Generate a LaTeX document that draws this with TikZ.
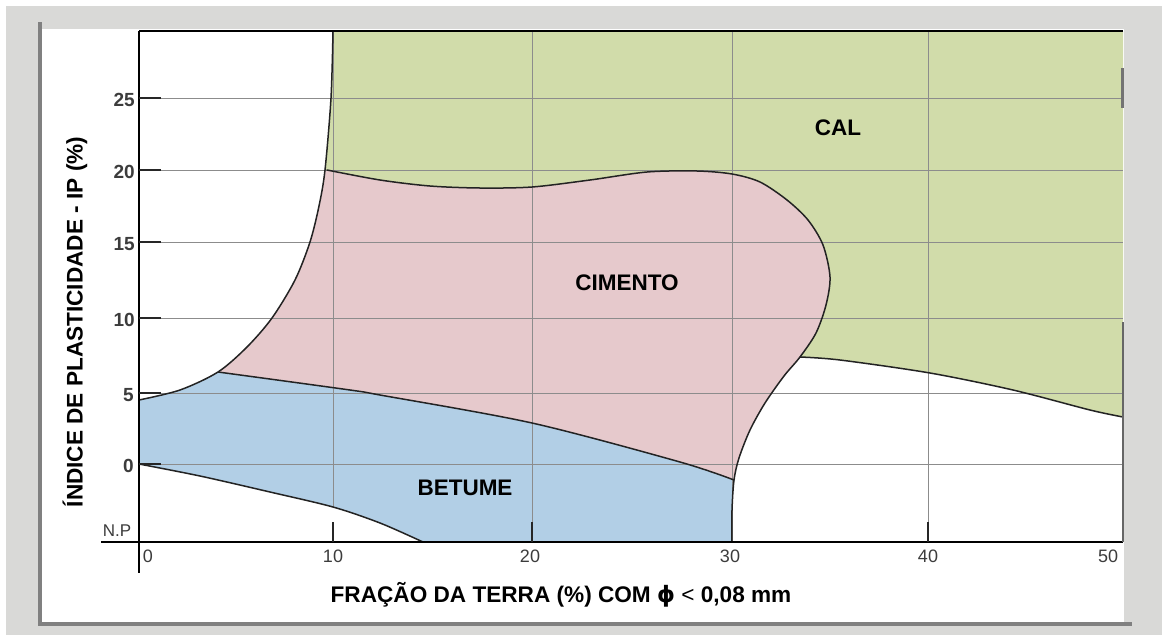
\documentclass[tikz,border=0pt]{standalone}
\usepackage{fontspec}
\setmainfont{Liberation Sans}
\newfontfamily\djv{DejaVu Sans}
\definecolor{calgreen}{RGB}{209,220,170}
\definecolor{cimpink}{RGB}{230,201,204}
\definecolor{betblue}{RGB}{178,207,230}
\definecolor{outergray}{RGB}{217,217,215}
\definecolor{framegray}{RGB}{128,128,128}
\definecolor{gridgray}{RGB}{140,140,140}
\definecolor{curvecol}{RGB}{35,35,35}
\definecolor{ticklab}{RGB}{60,60,60}
\tikzset{
  gridline/.style={draw=gridgray, line width=1pt},
  curve/.style={draw=curvecol, line width=1.5pt, line join=round, line cap=round},
  axisline/.style={draw=black, line width=2pt},
  tickmark/.style={draw=black!85, line width=1.6pt},
  ylab/.style={font=\bfseries\fontsize{19}{21}\selectfont, text=ticklab, anchor=east, inner sep=0pt},
  xlab/.style={font=\fontsize{18}{20}\selectfont, text=ticklab, inner sep=0pt},
  title/.style={font=\bfseries\fontsize{22.6}{26}\selectfont, text=black, inner sep=0pt},
  region/.style={font=\bfseries\fontsize{22.5}{26}\selectfont, text=black, inner sep=0pt},
}
\begin{document}
\begin{tikzpicture}[x=1pt, y=-1pt]
\useasboundingbox (0,0) rectangle (1162,635);
% page background and panel
\fill[white] (0,0) rectangle (1162,635);
\fill[outergray] (6,6) rectangle (1162,635);
\fill[white] (41,29) rectangle (1124,622);
\fill[framegray] (38,22) rectangle (42,626);
\fill[framegray] (38,622) rectangle (1132,626);

% coloured regions, clipped to the area right of the left curve
\begin{scope}
\clip plot[smooth] coordinates {(333,31) (331,98) (325,170) (319,206) (310,242) (295,280) (272,318) (247,347) (218,372) (180,390) (139,400)}
  -- (139,464)
  -- plot[smooth] coordinates {(139,464) (200,476) (270,492) (333,507) (380,523) (423,542)}
  -- (1123,542) -- (1123,31) -- cycle;
\fill[calgreen] (100,20) rectangle (1130,550);
\fill[white] (700,357) -- plot[smooth] coordinates {(800,357) (840,360) (930,373) (1013,390) (1090,410) (1123,417)}
  -- (1130,417) -- (1130,550) -- (700,550) -- cycle;
\fill[cimpink] plot[smooth] coordinates {(327,170) (380,180) (430,186) (480,188) (532,187) (590,180) (647,172) (697,171) (732,174) (760,182) (787,200) (808,220) (823,245) (830,277) (826,305) (816,333) (800,357) (784,376) (765,403) (750,430) (739,458) (734,480) (732,510) (732,542)}
  -- (732,550) -- (100,550) -- (100,170) -- cycle;
\fill[betblue] plot[smooth] coordinates {(120,359) (218,372) (350,390) (380,395) (532,423) (680,462) (734,480)}
  -- (732,510) -- (732,550) -- (100,550) -- (100,359) -- cycle;
\end{scope}

% grid
\foreach \yy in {98,170,242,318,393,464} {
  \draw[gridline] (139,\yy) -- (1123,\yy);
}
\draw[gridline] (333,31) -- (333,507);
\foreach \xx in {532,732,928} {
  \draw[gridline] (\xx,31) -- (\xx,542);
}

% boundary curves
\begin{scope}
\clip plot[smooth] coordinates {(333,31) (331,98) (325,170) (319,206) (310,242) (295,280) (272,318) (247,347) (218,372) (180,390) (139,400)}
  -- (139,464)
  -- plot[smooth] coordinates {(139,464) (200,476) (270,492) (333,507) (380,523) (423,542)}
  -- (1123,542) -- (1123,31) -- cycle;
\draw[curve] plot[smooth] coordinates {(327,170) (380,180) (430,186) (480,188) (532,187) (590,180) (647,172) (697,171) (732,174) (760,182) (787,200) (808,220) (823,245) (830,277) (826,305) (816,333) (800,357) (784,376) (765,403) (750,430) (739,458) (734,480) (732,510) (732,542)};
\draw[curve] plot[smooth] coordinates {(120,359) (218,372) (350,390) (380,395) (532,423) (680,462) (734,480)};
\draw[curve] plot[smooth] coordinates {(800,357) (840,360) (930,373) (1013,390) (1090,410) (1123,417)};
\end{scope}
\draw[curve] plot[smooth] coordinates {(333,31) (331,98) (325,170) (319,206) (310,242) (295,280) (272,318) (247,347) (218,372) (180,390) (139,400)};
\draw[curve] plot[smooth] coordinates {(139,464) (200,476) (270,492) (333,507) (380,523) (423,542)};

% axes and frame
\coordinate (tl) at (139,31);
\coordinate (tr) at (1123,31);
\coordinate (lb) at (139,573);
\coordinate (xl) at (101,542);
\coordinate (xr) at (1123,542);
\coordinate (rt) at (1123,322);
\draw[draw=black, line width=2.6pt] (tl) -- (tr);
\draw[axisline] (tl) -- (lb);
\draw[axisline] (xl) -- (xr);
\draw[draw=black!60, line width=2.6pt] (rt) -- (xr);
\draw[draw=black!55, line width=3pt] (1122,68) -- (1122,108);

% ticks
\foreach \yy in {98,170,242,318,393,464} {
  \draw[tickmark] (139,\yy) -- (161,\yy);
}
\foreach \xx in {333,532,928} {
  \draw[tickmark] (\xx,522) -- (\xx,542);
}

% tick labels
\node[ylab] (y25) at (135,100) {25};
\node[ylab] (y20) at (135,172) {20};
\node[ylab] (y15) at (135,244) {15};
\node[ylab] (y10) at (135,320) {10};
\node[ylab] (y5)  at (134,395) {5};
\node[ylab] (y0)  at (134,466) {0};
\node[font=\fontsize{17}{19}\selectfont, text=ticklab, inner sep=0pt] (np) at (117,531) {N.P};
\node[xlab] (x0)  at (148,556) {0};
\node[xlab] (x10) at (333,556) {10};
\node[xlab] (x20) at (530,556) {20};
\node[xlab] (x30) at (730,556) {30};
\node[xlab] (x40) at (928,556) {40};
\node[xlab] (x50) at (1108,556) {50};

% titles
\node[title] (xtitle) at (561,595) {FRAÇÃO DA TERRA (\%) COM {\djv\bfseries ϕ} {\mdseries <} 0,08 mm};
\node[title, rotate=90] (ytitle) at (75,322) {ÍNDICE DE PLASTICIDADE - IP (\%)};

% region labels
\node[region] (cal) at (838,128) {CAL};
\node[region] (cimento) at (627,283) {CIMENTO};
\node[region] (betume) at (465,488) {BETUME};
\end{tikzpicture}
\end{document}
